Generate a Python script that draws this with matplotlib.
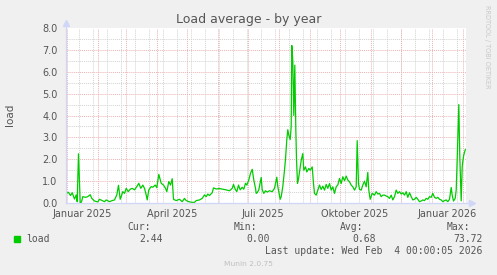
import datetime as dt
import matplotlib
matplotlib.use("Agg")
import matplotlib.pyplot as plt
from matplotlib.patches import Rectangle

# days since 2024-12-31 00:00 (graph start), load average values
days = [0.2, 2.5, 4.5, 6.2, 8.5, 10.2, 11.2, 12.5, 14.2, 15.5, 16.8, 19.5, 21.8, 24.2,
        25.8, 28.5, 31.8, 33.5, 36.2, 38.5, 40.2, 43.5, 46.2, 48.5, 50.8, 52.5, 54.2,
        55.2, 56.8, 58.5, 60.2, 62.2, 64.2, 66.2, 68.5, 70.8, 72.8, 74.8, 76.8, 78.5,
        80.2, 81.2, 82.8, 85.2, 86.8, 89.2, 90.8, 92.8, 95.2, 97.5, 99.5, 100.8, 102.8,
        104.5, 106.2, 107.5, 110.2, 113.5, 116.2, 118.5, 120.2, 123.5, 126.2, 128.5,
        130.2, 133.5, 136.2, 138.5, 140.2, 141.8, 143.5, 146.2, 147.5, 150.2, 153.5,
        156.8, 160.2, 163.5, 166.2, 167.5, 169.2, 170.8, 172.5, 174.2, 176.2, 177.8,
        179.5, 180.8, 182.8, 184.5, 186.2, 187.8, 189.5, 190.2, 191.2, 192.8, 195.2,
        196.2, 197.8, 199.5, 201.2, 203.5, 206.2, 208.5, 210.8, 211.8, 214.2, 215.2,
        216.8, 218.5, 219.5, 220.8, 221.8, 222.8, 224.2, 225.2, 225.8, 226.8, 227.8,
        228.8, 229.8, 230.5, 231.5, 232.5, 233.5, 235.2, 236.8, 237.8, 239.5, 240.8,
        242.8, 244.2, 246.2, 247.5, 248.5, 250.2, 251.8, 253.5, 255.2, 256.8, 258.5,
        260.2, 261.8, 263.5, 265.2, 266.8, 268.5, 270.2, 271.8, 273.5, 275.2, 276.8,
        278.5, 280.2, 281.8, 283.5, 285.2, 286.8, 288.5, 290.2, 291.2, 292.5, 293.5,
        295.2, 296.8, 298.5, 300.2, 301.8, 302.8, 304.2, 306.2, 308.5, 310.2, 311.8,
        313.5, 315.2, 316.8, 318.5, 320.2, 321.8, 323.5, 325.2, 326.8, 328.5, 330.2,
        331.8, 333.5, 335.2, 336.8, 338.5, 340.2, 341.8, 343.5, 345.2, 346.8, 348.5,
        350.2, 351.8, 353.5, 355.2, 356.8, 358.5, 360.2, 361.8, 363.5, 365.2, 366.8,
        368.5, 370.2, 371.8, 373.5, 375.2, 376.8, 378.5, 380.2, 381.8, 383.5, 385.2,
        386.2, 387.5, 389.2, 390.2, 391.2, 392.8, 393.8, 395.2, 396.2, 396.8, 397.8,
        399.3]
load = [0.44, 0.49, 0.34, 0.47, 0.18, 0.37, 0.06, 2.25, 0.0, 0.05, 0.29, 0.26, 0.29, 0.38,
        0.21, 0.09, 0.05, 0.17, 0.11, 0.06, 0.14, 0.06, 0.11, 0.14, 0.37, 0.81, 0.17,
        0.29, 0.52, 0.44, 0.67, 0.52, 0.63, 0.67, 0.6, 0.75, 0.9, 0.67, 0.82, 0.67,
        0.37, 0.14, 0.6, 0.75, 0.72, 0.82, 0.70, 1.31, 0.9, 0.82, 0.67, 0.52, 0.98,
        0.82, 1.11, 0.17, 0.11, 0.17, 0.06, 0.21, 0.11, 0.05, 0.03, 0.03,
        0.11, 0.14, 0.21, 0.37, 0.29, 0.41, 0.34, 0.47, 0.69, 0.64, 0.66,
        0.63, 0.6, 0.56, 0.67, 0.85, 0.63, 0.52, 0.82, 0.6, 0.72, 0.63,
        0.9, 0.82, 1.05, 1.36, 1.54, 1.05, 0.67, 0.44, 0.47, 0.6, 1.17,
        0.6, 0.44, 0.56, 0.5, 0.56, 0.52, 0.67, 1.18, 0.75, 0.17, 0.29,
        0.75, 1.5, 2.0, 2.9, 3.35, 3.1, 2.9, 3.5, 7.2, 6.5, 4.0,
        6.3, 3.4, 2.0, 0.9, 1.1, 1.42, 1.95, 2.26, 1.5, 1.65, 1.42,
        1.58, 1.5, 1.65, 0.89, 0.44, 0.36, 0.59, 0.82, 0.62, 0.77, 0.59,
        0.85, 0.67, 0.89, 0.59, 0.74, 0.44, 0.74, 0.82, 1.12, 0.89, 1.2,
        1.02, 1.23, 1.05, 0.97, 0.82, 0.74, 0.59, 0.74, 2.85, 0.89, 0.62,
        0.59, 0.82, 1.0, 0.74, 1.4, 0.59, 0.17, 0.44, 0.36, 0.52, 0.41,
        0.44, 0.29, 0.36, 0.36, 0.32, 0.29, 0.21, 0.36, 0.14, 0.29, 0.59,
        0.44, 0.52, 0.41, 0.47, 0.36, 0.52, 0.26, 0.47, 0.29, 0.14, 0.17,
        0.26, 0.17, 0.06, 0.09, 0.14, 0.11, 0.21, 0.17, 0.29, 0.26, 0.44,
        0.26, 0.21, 0.26, 0.17, 0.14, 0.06, 0.11, 0.14, 0.06, 0.17, 0.71,
        0.36, 0.09, 0.21, 0.59, 2.0, 4.5, 2.1, 0.1, 1.65, 1.9, 2.2,
        2.44]

month_labels = ["Januar 2025", "April 2025", "Juli 2025", "Oktober 2025", "Januar 2026"]
label_months = [(2025, 1), (2025, 4), (2025, 7), (2025, 10), (2026, 1)]
y_ticks = [0, 1, 2, 3, 4, 5, 6, 7, 8]

legend_cols = ["Cur:", "Min:", "Avg:", "Max:"]
legend_vals = ["2.44", "0.00", "0.68", "73.72"]

start = dt.datetime(2024, 12, 31)
span = 400


def day_of(d):
    return (d - start).total_seconds() / 86400


FONT = "#555555"
GRID = "#d2d2d2"
MGRID = "#ecb2b2"
AXIS = "#cfd6f8"

fig = plt.figure(figsize=(4.97, 2.75), dpi=100, facecolor="#f0f0f0")
ax = fig.add_axes([66 / 497, 72 / 275, 400 / 497, 175 / 275])
ax.set_facecolor("white")
ax.set_xlim(0, span)
ax.set_ylim(0, 8)
for s in ax.spines.values():
    s.set_visible(False)

dots = (0, (1, 1))
# horizontal grid
for v in range(0, 16):
    y = v * 0.5
    c = MGRID if v % 2 == 0 else GRID
    ax.axhline(y, color=c, lw=0.7, ls=dots, zorder=1)

# vertical grid: biweekly minor, monthly major
d = dt.datetime(2025, 1, 13)
while day_of(d) < span:
    ax.axvline(day_of(d), color=GRID, lw=0.7, ls=dots, zorder=1)
    d += dt.timedelta(days=14)
y0, m0 = 2025, 1
while True:
    d = dt.datetime(y0, m0, 1)
    if day_of(d) >= span:
        break
    ax.axvline(day_of(d), color=MGRID, lw=0.7, ls=dots, zorder=2)
    m0 += 1
    if m0 > 12:
        m0 = 1
        y0 += 1

ax.plot(days, load, color="#00cc00", lw=0.9, zorder=3)

# axes lines and arrows
ax.plot([0, 1.012], [0, 0], transform=ax.transAxes, color=AXIS, lw=0.9, clip_on=False, zorder=4)
ax.plot([0, 0], [0, 1.02], transform=ax.transAxes, color=AXIS, lw=0.9, clip_on=False, zorder=4)
ax.plot([1.015], [0], marker=">", ms=4, color=AXIS, transform=ax.transAxes, clip_on=False)
ax.plot([0], [1.027], marker="^", ms=4, color=AXIS, transform=ax.transAxes, clip_on=False)

ax.set_yticks(y_ticks)
ax.set_yticklabels([f"{v:.1f}" for v in y_ticks])
label_pos = [day_of(dt.datetime(y, m, 1)) + 15 for y, m in label_months]
ax.set_xticks(label_pos)
ax.set_xticklabels(month_labels)
ax.tick_params(length=0, labelsize=7, colors=FONT)
ax.tick_params(axis="y", pad=6)
ax.tick_params(axis="x", pad=4)

fig.text(248.5 / 497, 1 - 19 / 275, "Load average - by year", ha="center", va="center",
         fontsize=9, color=FONT)
fig.text(10 / 497, 1 - 115 / 275, "load", rotation=90, ha="center", va="center",
         fontsize=7.5, color=FONT)
fig.text(487.5 / 497, 1 - 5 / 275, "RRDTOOL / TOBI OETIKER", rotation=270, ha="center",
         va="top", fontsize=4.7, color="#c8c8c8")

# legend
mono = "DejaVu Sans Mono"
fig.patches.append(Rectangle((14 / 497, 1 - 242 / 275), 6 / 497, 6 / 275,
                             transform=fig.transFigure, color="#00cc00"))
fig.text(26.5 / 497, 1 - 239.5 / 275, "load", ha="left", va="center", family=mono,
         fontsize=7, color=FONT)
col_right = [163, 269.5, 376, 482.5]
for name, val, xr in zip(legend_cols, legend_vals, col_right):
    fig.text((xr - 12.5) / 497, 1 - 227.5 / 275, name, ha="right", va="center",
             family=mono, fontsize=7, color=FONT)
    fig.text(xr / 497, 1 - 239.5 / 275, val, ha="right", va="center",
             family=mono, fontsize=7, color=FONT)
fig.text(482.5 / 497, 1 - 251 / 275, "Last update: Wed Feb  4 00:00:05 2026", ha="right",
         va="center", family=mono, fontsize=7, color=FONT)
fig.text(248 / 497, 1 - 264 / 275, "Munin 2.0.75", ha="center", va="center",
         fontsize=5.4, color="#c0c0c0")

fig.savefig("out.png", dpi=100, facecolor=fig.get_facecolor())
